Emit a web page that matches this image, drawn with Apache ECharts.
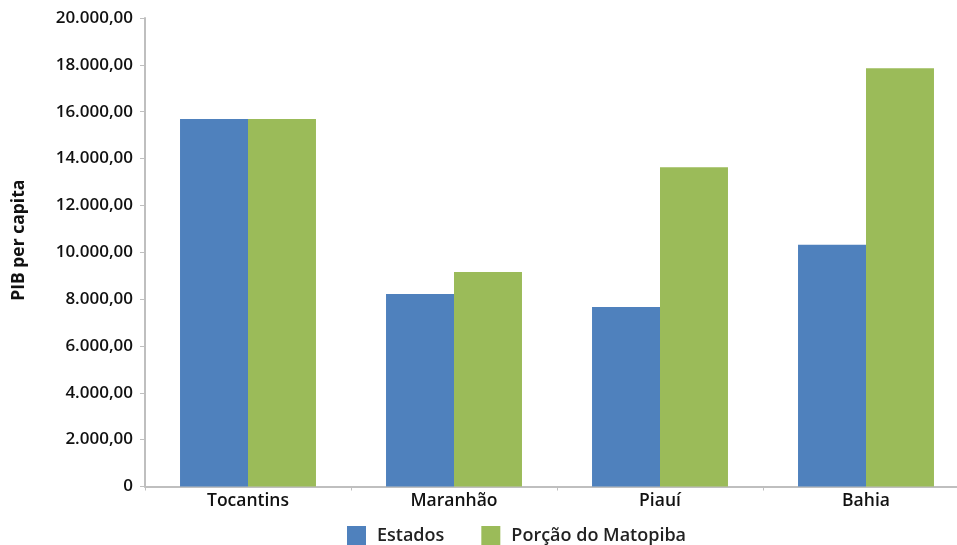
<!DOCTYPE html>
<html><head><meta charset="utf-8">
<script src="https://cdn.jsdelivr.net/npm/echarts@6/dist/echarts.min.js"></script>
<style>html,body{margin:0;padding:0;background:#fff}#c{width:957px;height:545px}</style>
</head><body><div id="c"></div>
<script>
const categories = ['Tocantins', 'Maranhão', 'Piauí', 'Bahia'];
const estados = [15690, 8220, 7660, 10320];
const matopiba = [15690, 9160, 13630, 17850];
const seriesNames = ['Estados', 'Porção do Matopiba'];
const yAxisTitle = 'PIB per capita';

function fmt(v) {
  if (v === 0) return '0';
  const s = Math.round(v).toString().replace(/\B(?=(\d{3})+(?!\d))/g, '.');
  return s + ',00';
}
const font = '"Open Sans", "Noto Sans", sans-serif';
const chart = echarts.init(document.getElementById('c'));
chart.setOption({
  animation: false,
  textStyle: { fontFamily: font },
  grid: { left: 145, width: 824, top: 18, height: 468.5, outerBoundsMode: 'none', containLabel: false },
  legend: {
    top: 526, left: 347, padding: 0,
    itemWidth: 19, itemHeight: 19, itemGap: 37,
    icon: 'rect',
    textStyle: { fontSize: 18, lineHeight: 19, fontWeight: 600, color: '#222', fontFamily: font, padding: [0, 0, 0, 6] },
    data: seriesNames
  },
  xAxis: {
    type: 'category', data: categories,
    axisLine: { lineStyle: { color: '#bfbfbf', width: 2 } },
    axisTick: { show: true, length: 4, lineStyle: { color: '#bfbfbf' } },
    axisLabel: { fontSize: 17.5, fontWeight: 600, color: '#111', margin: 6, fontFamily: font }
  },
  yAxis: {
    type: 'value', min: 0, max: 20000, interval: 2000,
    name: yAxisTitle, nameLocation: 'middle', nameGap: 117, nameRotate: 90,
    nameTextStyle: { fontSize: 17.5, fontWeight: 'bold', color: '#111', fontFamily: font, padding: [0, 0, 0, 24] },
    axisLine: { show: true, lineStyle: { color: '#bfbfbf', width: 2 } },
    axisTick: { show: true, length: 5, lineStyle: { color: '#bfbfbf' } },
    splitLine: { show: false },
    axisLabel: { fontSize: 17, fontWeight: 600, color: '#111', margin: 12, formatter: fmt, fontFamily: font }
  },
  series: [
    { name: seriesNames[0], type: 'bar', data: estados, barGap: '0%', barCategoryGap: '34%', itemStyle: { color: '#4f81bd' } },
    { name: seriesNames[1], type: 'bar', data: matopiba, itemStyle: { color: '#9bbb59' } }
  ]
});
</script></body></html>
